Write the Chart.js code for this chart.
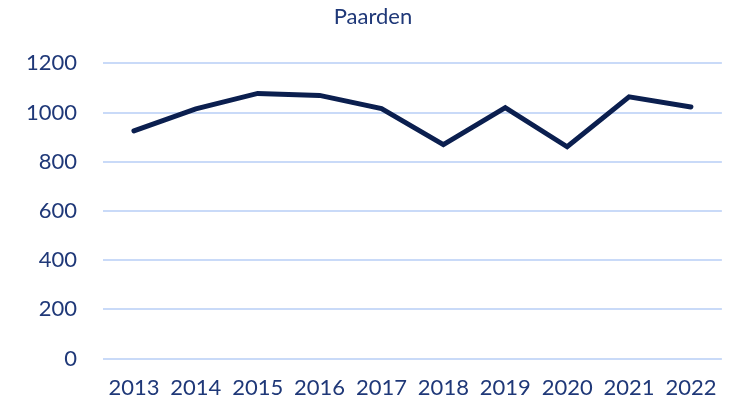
<!DOCTYPE html>
<html>
<head>
<meta charset="utf-8">
<script src="https://cdn.jsdelivr.net/npm/chart.js@4/dist/chart.umd.min.js"></script>
<style>
  html, body { margin: 0; padding: 0; background: #ffffff; }
  #wrap { width: 733px; height: 406px; }
</style>
</head>
<body>
<div id="wrap"><canvas id="c" width="733" height="406"></canvas></div>
<script>
const years = ['2013','2014','2015','2016','2017','2018','2019','2020','2021','2022'];
const paarden = [926, 1015, 1078, 1070, 1016, 870, 1020, 861, 1064, 1023];
const yTicks = [0, 200, 400, 600, 800, 1000, 1200];
const chartTitle = 'Paarden';

const textColor = '#1F3878';
const fontFamily = 'Lato, "Open Sans", sans-serif';

new Chart(document.getElementById('c'), {
  type: 'line',
  data: {
    labels: years,
    datasets: [{
      label: chartTitle,
      data: paarden,
      borderColor: '#0B1F4F',
      borderWidth: 5,
      pointRadius: 0,
      tension: 0,
      fill: false,
      borderCapStyle: 'round',
      borderJoinStyle: 'miter'
    }]
  },
  options: {
    responsive: false,
    animation: false,
    devicePixelRatio: 1,
    layout: { padding: { left: 24, right: 11, top: 4, bottom: -11 } },
    plugins: {
      legend: { display: false },
      tooltip: { enabled: false },
      title: {
        display: true,
        text: chartTitle,
        color: textColor,
        font: { family: fontFamily, size: 22, weight: 'normal' },
        padding: { top: 0, bottom: 33 }
      }
    },
    scales: {
      x: {
        offset: true,
        grid: { display: false, drawTicks: false },
        border: { display: false },
        ticks: {
          color: textColor,
          font: { family: fontFamily, size: 22 },
          padding: 16,
          maxRotation: 0,
          autoSkip: false
        }
      },
      y: {
        min: 0,
        max: 1200,
        afterBuildTicks: (axis) => { axis.ticks = yTicks.map(v => ({ value: v })); },
        afterFit: (axis) => { axis.width = 79; },
        grid: { color: '#C9DAF8', lineWidth: 2, drawTicks: false },
        border: { display: false },
        ticks: {
          color: textColor,
          font: { family: fontFamily, size: 22 },
          padding: 26,
          callback: (v) => String(v)
        }
      }
    }
  }
});
</script>
</body>
</html>
